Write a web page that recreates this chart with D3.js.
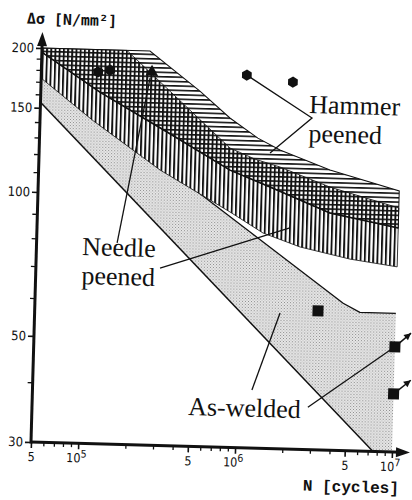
<!DOCTYPE html>
<html><head><meta charset="utf-8">
<script src="https://cdn.jsdelivr.net/npm/d3@7"></script>
<style>body{margin:0;background:#fff}svg{display:block}</style>
</head><body>
<svg id="c" width="412" height="500"></svg>
<script>
// ---- data (N in cycles, stress range in N/mm^2) ----
const hammerUpper = [[5e4,200],[2.44e5,200],[5.16e5,166],[8.1e5,146.5],[1.23e6,133.5],[1.71e6,126.4],[3.59e6,115.6],[1e7,105.5]];
const hammerLower = [[5e4,196],[1.19e5,163],[3.24e5,135.8],[8.28e5,114],[1.5e6,105.7],[3.65e6,94],[1e7,88.3]];
const needleUpper = [[5e4,200],[1.74e5,200],[8.2e5,126.8],[1.19e6,120.6],[1.72e6,116.5],[3.61e6,106.5],[1e7,97.2]];
const needleLower = [[5e4,173],[1.09e5,142],[2.97e5,113],[8.43e5,93.2],[1.38e6,84.6],[2.39e6,79.5],[4.99e6,75.5],[1e7,73.2]];
const weldedUpper = [[5e4,178],[4.6e6,61],[5.9e6,58.5],[1e7,58.5]];
const weldedLower = [[5e4,154],[7.57e6,30]];
const hexPoints = [[1.02e6,180.5],[2.01e6,175.6],[1.15e5,179.6],[1.37e5,181.5]];
const trianglePoints = [[2.53e5,180.8]];
const squarePoints = [[3.19e6,58.6],[1e7,49.8],[1e7,39.7]];
const runoutArrows = [[[1e7,49.8],[1.26e7,53.3]],[[1e7,39.7],[1.28e7,42.5]]];
const leaders = [
  [[1.02e6,180.5],[2.70e6,148.1],[1.48e6,124.4]],
  [[1.63e5,79.1],[2.47e5,175.6]],
  [[3.09e5,70.5],[2.04e6,87.0]],
  [[1.25e6,39.7],[1.83e6,57.7]],
  [[2.86e6,36.8],[1e7,49.8]]
];
const labelTexts = [["Hammer","peened"],["Needle","peened"],["As-welded"]];
const labelAnchors = [[2.58e6,151.7],[9.79e4,74.3],[4.94e5,34.9]];
const xMajorTicks = [5e4,1e5,5e5,1e6,5e6,1e7];
const xMajorLabels = [["5",""],["10","5"],["5",""],["10","6"],["5",""],["10","7"]];
const xMinorTicks = [6e4,7e4,8e4,9e4,2e5,3e5,4e5,6e5,7e5,8e5,9e5,2e6,3e6,4e6,6e6,7e6,8e6,9e6];
const yMajorTicks = [30,50,100,150,200];
const yMinorTicks = [40,60,70,80,90,110,120,130,140,160,170,180,190];
const yTitle = "Δσ [N/mm²]";
const xTitle = "N [cycles]";

// ---- layout ----
const svg = d3.select("#c");
const defs = svg.append("defs");
const g = svg.append("g").attr("transform","translate(31,442) rotate(1.6)");
const x = d3.scaleLog().domain([5e4,1e7]).range([0,361.1]);
const y = d3.scaleLog().domain([30,200]).range([0,-394.1]);

// patterns
const pv = defs.append("pattern").attr("id","vhatch").attr("patternUnits","userSpaceOnUse").attr("width",4.2).attr("height",10);
pv.append("rect").attr("x",0).attr("y",0).attr("width",1.9).attr("height",10).attr("fill","#111");
const ph = defs.append("pattern").attr("id","hhatch").attr("patternUnits","userSpaceOnUse").attr("width",10).attr("height",4.4);
ph.append("rect").attr("x",0).attr("y",0).attr("width",10).attr("height",1.6).attr("fill","#111");
const ps = defs.append("pattern").attr("id","stip").attr("patternUnits","userSpaceOnUse").attr("width",3).attr("height",3);
ps.append("rect").attr("width",3).attr("height",3).attr("fill","#e9e9e9");
ps.append("rect").attr("x",0).attr("y",0).attr("width",1).attr("height",1).attr("fill","#8a8a8a");
ps.append("rect").attr("x",1.5).attr("y",1.5).attr("width",1).attr("height",1).attr("fill","#a0a0a0");

const line = d3.line().x(d=>x(d[0])).y(d=>y(d[1]));
const poly = (up,low)=> line(up.concat(low.slice().reverse())) + "Z";

// as-welded band
const weldPoly = weldedUpper.concat([[1e7,30]]).concat(weldedLower.slice().reverse());
g.append("path").attr("d", line(weldPoly)+"Z").attr("fill","url(#stip)");
g.append("path").attr("d", line(weldedUpper)).attr("fill","none").attr("stroke","#111").attr("stroke-width",1.3).attr("stroke-linejoin","round");
g.append("path").attr("d", line(weldedLower)).attr("fill","none").attr("stroke","#111").attr("stroke-width",1.5);

// needle peened band
g.append("path").attr("d", poly(needleUpper,needleLower)).attr("fill","#fff");
g.append("path").attr("d", poly(needleUpper,needleLower)).attr("fill","url(#vhatch)").attr("stroke","#111").attr("stroke-width",0.8);
// hammer peened band
g.append("path").attr("d", poly(hammerUpper,hammerLower)).attr("fill","url(#hhatch)").attr("stroke","#111").attr("stroke-width",1);
g.append("path").attr("d", line(hammerLower)).attr("fill","none").attr("stroke","#111").attr("stroke-width",1.5);

// leader lines
leaders.forEach(L=>{
  g.append("path").attr("d", line(L)).attr("fill","none").attr("stroke","#111").attr("stroke-width",1.3);
});
runoutArrows.forEach(L=>{
  g.append("path").attr("d", line(L)).attr("fill","none").attr("stroke","#111").attr("stroke-width",1.5);
  const p0=[x(L[0][0]),y(L[0][1])], p1=[x(L[1][0]),y(L[1][1])];
  const a=Math.atan2(p1[1]-p0[1],p1[0]-p0[0])*180/Math.PI;
  g.append("path").attr("d","M0,0L-7,-3.5L-7,3.5Z").attr("fill","#111")
    .attr("transform",`translate(${p1[0]},${p1[1]}) rotate(${a})`);
});

// markers
const hexPath = d3.range(6).map(i=>{const t=Math.PI/3*i+Math.PI/6;return [5.6*Math.cos(t),5.6*Math.sin(t)];});
g.selectAll(".hex").data(hexPoints).join("path").attr("class","hex")
  .attr("d","M"+hexPath.join("L")+"Z").attr("fill","#111")
  .attr("transform",d=>`translate(${x(d[0])},${y(d[1])})`);
g.selectAll(".tri").data(trianglePoints).join("path").attr("class","tri")
  .attr("d",d3.symbol(d3.symbolTriangle,70)).attr("fill","#111")
  .attr("transform",d=>`translate(${x(d[0])},${y(d[1])})`);
g.selectAll(".sq").data(squarePoints).join("rect").attr("class","sq")
  .attr("x",d=>x(d[0])-5.5).attr("y",d=>y(d[1])-5.5).attr("width",11).attr("height",11).attr("fill","#111");

// labels
labelTexts.forEach((T,i)=>{
  const t = g.append("text").attr("x",x(labelAnchors[i][0])).attr("y",y(labelAnchors[i][1]))
    .attr("font-family","'Liberation Serif','Times New Roman',serif").attr("font-size",26).attr("fill","#111");
  T.forEach((s,j)=>t.append("tspan").attr("x",x(labelAnchors[i][0])).attr("dy",j?29:0).text(s));
});

// axes
const tickFont = "'DejaVu Sans Condensed','DejaVu Sans',sans-serif";
const xa = g.append("g").call(d3.axisBottom(x).tickValues(xMinorTicks).tickSize(4).tickFormat(""));
xa.select(".domain").remove(); xa.selectAll("line").attr("stroke","#111").attr("stroke-width",1.3);
const xb = g.append("g").call(d3.axisBottom(x).tickValues(xMajorTicks).tickSize(6).tickFormat(""));
xb.select(".domain").remove(); xb.selectAll("line").attr("stroke","#111").attr("stroke-width",1.6);
xb.selectAll(".tick").each(function(d,i){
  const t = d3.select(this).append("text").attr("y",19).attr("fill","#111").attr("text-anchor","middle")
    .attr("font-family",tickFont).attr("font-stretch","condensed").attr("font-size",12.5).attr("x", xMajorLabels[i][1]?-2:0);
  t.append("tspan").text(xMajorLabels[i][0]);
  if (xMajorLabels[i][1]) t.append("tspan").attr("dy",-5).attr("font-size",10.5).text(xMajorLabels[i][1]);
});
const ya = g.append("g").call(d3.axisLeft(y).tickValues(yMinorTicks).tickSize(5).tickFormat(""));
ya.select(".domain").remove(); ya.selectAll("line").attr("stroke","#111").attr("stroke-width",1.3);
const yb = g.append("g").call(d3.axisLeft(y).tickValues(yMajorTicks).tickSize(6).tickFormat(d3.format("d")));
yb.select(".domain").remove(); yb.selectAll("line").attr("stroke","#111").attr("stroke-width",1.6);
yb.selectAll("text").attr("x",-8).attr("fill","#111").attr("font-family",tickFont).attr("font-stretch","condensed").attr("font-size",13);

// axis lines with arrows
const xEnd = x(1e7)+18, yEnd = y(200)-16;
g.append("line").attr("x1",0).attr("y1",0).attr("x2",xEnd-8).attr("y2",0).attr("stroke","#111").attr("stroke-width",3);
g.append("path").attr("d",`M${xEnd},0L${xEnd-14},-5L${xEnd-14},5Z`).attr("fill","#111");
g.append("line").attr("x1",0).attr("y1",1.5).attr("x2",0).attr("y2",yEnd+8).attr("stroke","#111").attr("stroke-width",3);
g.append("path").attr("d",`M0,${yEnd}L-5,${yEnd+14}L5,${yEnd+14}Z`).attr("fill","#111");

// axis titles
g.append("text").attr("x",-16).attr("y",y(200)-24).attr("font-family","'DejaVu Sans Mono',monospace").attr("font-weight","bold")
  .attr("font-size",15).attr("fill","#111").text(yTitle);
g.append("text").attr("x",x(1e7)+8).attr("y",41).attr("text-anchor","end").attr("font-family","'Liberation Mono','DejaVu Sans Mono',monospace").attr("font-weight","bold")
  .attr("font-size",16).attr("fill","#111").text(xTitle);
</script>
</body></html>
